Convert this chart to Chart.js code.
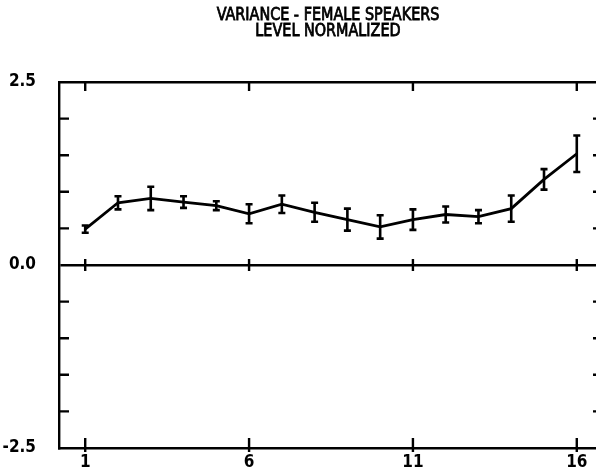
<!DOCTYPE html>
<html>
<head>
<meta charset="utf-8">
<script src="https://cdn.jsdelivr.net/npm/chart.js@4/dist/chart.umd.min.js"></script>
<style>
    html, body { margin: 0; padding: 0; background: #fff; overflow: hidden; }
    canvas { display: block; }
</style>
</head>
<body>
<canvas id="variance" width="620" height="474"></canvas>
<script>
// segment number along the x axis
var segments = [1, 2, 3, 4, 5, 6, 7, 8, 9, 10, 11, 12, 13, 14, 15, 16];
var variance = [0.49, 0.85, 0.91, 0.86, 0.81, 0.70, 0.83, 0.72, 0.62, 0.52, 0.62, 0.69, 0.66, 0.77, 1.17, 1.52];
var spread = [0.05, 0.09, 0.16, 0.08, 0.06, 0.13, 0.12, 0.13, 0.15, 0.16, 0.14, 0.11, 0.09, 0.18, 0.14, 0.25];

var xTicks = [1, 6, 11, 16];
var yLabels = [-2.5, 0, 2.5];
var yMinor = [-2, -1.5, -1, -0.5, 0.5, 1, 1.5, 2];
var titleLines = ["VARIANCE - FEMALE SPEAKERS", "LEVEL NORMALIZED"];

var varianceChart;
var FONT = "'DejaVu Sans Condensed', 'DejaVu Sans', sans-serif";

window.onload = function () {
    initChart();
}

function buildPoints() {
    var pts = [];
    for (var i = 0; i < segments.length; i++) {
        pts.push({ x: segments[i], y: variance[i] });
    }
    return pts;
}

// chart.js adds room for the end labels, the plot frame here doesn't
function noEndPadding(scale) {
    scale.paddingTop = 0;
    scale.paddingBottom = 0;
    scale.paddingLeft = 0;
    scale.paddingRight = 0;
}

// error bars, inward axis ticks and the title
var plotterMarks = {
    id: 'plotterMarks',
    afterDatasetsDraw: function (chart) {
        var ctx = chart.ctx;
        var x = chart.scales.x;
        var y = chart.scales.y;
        var area = chart.chartArea;
        ctx.save();
        ctx.strokeStyle = '#000';
        ctx.lineWidth = 2.6;
        ctx.lineCap = 'butt';

        for (var i = 0; i < segments.length; i++) {
            var px = x.getPixelForValue(segments[i]);
            var top = y.getPixelForValue(variance[i] + spread[i]);
            var bot = y.getPixelForValue(variance[i] - spread[i]);
            ctx.beginPath();
            ctx.moveTo(px, top);
            ctx.lineTo(px, bot);
            ctx.moveTo(px - 3.5, top);
            ctx.lineTo(px + 3.5, top);
            ctx.moveTo(px - 3.5, bot);
            ctx.lineTo(px + 3.5, bot);
            ctx.stroke();
        }

        ctx.lineWidth = 2.4;
        ctx.beginPath();
        yMinor.forEach(function (v) {
            var py = y.getPixelForValue(v);
            ctx.moveTo(area.left, py);
            ctx.lineTo(area.left + 10, py);
            ctx.moveTo(area.right, py);
            ctx.lineTo(area.right - 10, py);
        });
        var zero = y.getPixelForValue(0);
        xTicks.forEach(function (v) {
            var px = x.getPixelForValue(v);
            ctx.moveTo(px, area.top);
            ctx.lineTo(px, area.top + 9);
            ctx.moveTo(px, zero - 6);
            ctx.lineTo(px, zero + 6);
            ctx.moveTo(px, area.bottom - 10);
            ctx.lineTo(px, area.bottom + 4);
        });
        ctx.stroke();

        // tall narrow plotter lettering
        ctx.fillStyle = '#000';
        ctx.lineWidth = 0.7;
        ctx.textAlign = 'center';
        ctx.textBaseline = 'alphabetic';
        ctx.font = '16px ' + FONT;
        ctx.translate(328, 0);
        ctx.scale(1, 1.15);
        titleLines.forEach(function (line, i) {
            var base = (i === 0 ? 20.5 : 36) / 1.15;
            ctx.fillText(line, 0, base);
            ctx.strokeText(line, 0, base);
        });
        ctx.restore();
    }
};

function initChart() {
    var ctx = document.getElementById('variance');
    varianceChart = new Chart(ctx, {
        type: 'line',
        data: {
            datasets: [{
                data: buildPoints(),
                borderColor: '#000',
                borderWidth: 2.8,
                pointRadius: 0,
                tension: 0,
                fill: false
            }]
        },
        options: {
            responsive: false,
            animation: false,
            events: [],
            layout: { padding: 0 },
            plugins: {
                legend: { display: false },
                tooltip: { enabled: false },
                title: { display: false }
            },
            scales: {
                x: {
                    type: 'linear',
                    position: 'bottom',
                    min: 0.2,
                    max: 16.8,
                    afterBuildTicks: function (scale) {
                        scale.ticks = xTicks.map(function (v) { return { value: v }; });
                    },
                    afterFit: function (scale) { scale.height = 26; noEndPadding(scale); },
                    ticks: {
                        padding: 4,
                        color: '#000',
                        font: { family: FONT, size: 17, weight: 'bold' },
                        maxRotation: 0,
                        autoSkip: false
                    },
                    grid: { drawOnChartArea: false, drawTicks: false },
                    border: { display: true, color: '#000', width: 2.4 }
                },
                xTop: {
                    type: 'linear',
                    position: 'top',
                    min: 0.2,
                    max: 16.8,
                    afterFit: function (scale) { scale.height = 82; noEndPadding(scale); },
                    ticks: { display: false },
                    grid: { drawOnChartArea: false, drawTicks: false },
                    border: { display: true, color: '#000', width: 2.4 }
                },
                y: {
                    type: 'linear',
                    position: 'left',
                    min: -2.5,
                    max: 2.5,
                    afterBuildTicks: function (scale) {
                        scale.ticks = yLabels.map(function (v) { return { value: v }; });
                    },
                    afterFit: function (scale) { scale.width = 59; noEndPadding(scale); },
                    ticks: {
                        padding: 23,
                        color: '#000',
                        font: { family: FONT, size: 17, weight: 'bold' },
                        callback: function (v) { return v.toFixed(1); }
                    },
                    grid: {
                        drawTicks: false,
                        lineWidth: 2.4,
                        color: function (c) {
                            return c.tick && c.tick.value === 0 ? '#000' : 'rgba(0,0,0,0)';
                        }
                    },
                    border: { display: true, color: '#000', width: 2.4 }
                },
                yRight: {
                    type: 'linear',
                    position: 'right',
                    min: -2.5,
                    max: 2.5,
                    afterFit: function (scale) { scale.width = 17; noEndPadding(scale); },
                    ticks: { display: false },
                    grid: { drawOnChartArea: false, drawTicks: false },
                    border: { display: true, color: '#000', width: 2.4 }
                }
            }
        },
        plugins: [plotterMarks]
    });
}
</script>
</body>
</html>
